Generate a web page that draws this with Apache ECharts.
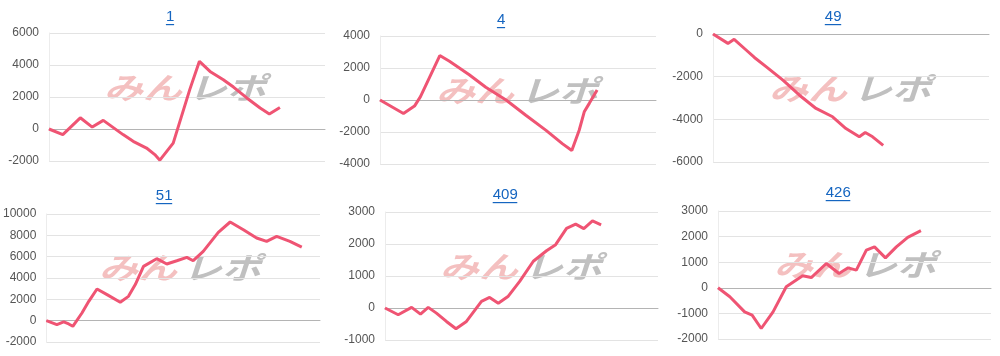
<!DOCTYPE html>
<html><head><meta charset="utf-8">
<script src="https://cdn.jsdelivr.net/npm/echarts@6/dist/echarts.min.js"></script>
<style>html,body{margin:0;padding:0;background:#fff}#c{width:1000px;height:356px}</style>
</head><body><div id="c"></div>
<script>
// ---- data ----
const titles = ['1', '4', '49', '51', '409', '426'];
const c1X = [0, 3, 6.8, 9.4, 11.8, 16.1, 18.3, 21.2, 23, 24.1, 27, 28.8, 30.6, 32.7, 35, 37.9, 40.1, 43, 45.9, 47.9, 50.2];
const c1Y = [0, -350, 700, 120, 540, -350, -770, -1190, -1600, -1950, -880, 790, 2460, 4230, 3600, 3080, 2620, 1940, 1310, 940, 1350];
const c2X = [0, 5.1, 7.5, 8.8, 13, 15.1, 19.4, 23, 27.4, 31.7, 36.1, 39.7, 41.7, 43.3, 44.4, 45.5, 47.2];
const c2Y = [0, -840, -380, 210, 2780, 2420, 1580, 800, 0, -950, -1900, -2740, -3160, -1890, -740, -210, 630];
const c3X = [0, 3.25, 4.6, 7.2, 9, 11.6, 15.2, 18.8, 22.4, 26, 28.9, 31.8, 33.1, 34.7, 37];
const c3Y = [0, -440, -250, -750, -1100, -1540, -2160, -2870, -3490, -3880, -4430, -4820, -4620, -4820, -5220];
const c4X = [0, 2.3, 3.8, 4.9, 5.8, 7.8, 9.3, 11.1, 13.3, 16.2, 18, 19.5, 21.3, 24.2, 26.4, 28.6, 30.8, 32.2, 34.4, 37.7, 40.3, 43.2, 46.1, 48.3, 50.5, 53.4, 56];
const c4Y = [0, -370, -120, -310, -530, 720, 1810, 2970, 2440, 1720, 2280, 3380, 5090, 5810, 5310, 5620, 5940, 5620, 6500, 8280, 9250, 8530, 7750, 7440, 7900, 7440, 6900];
const c5X = [0, 2.9, 5.85, 7.8, 9.5, 11.3, 13.5, 15.6, 17.9, 21.2, 23, 24.9, 27.1, 29.6, 32.6, 35.5, 37.5, 39.9, 41.9, 43.7, 45.6, 47.5];
const c5Y = [0, -210, 20, -190, 20, -160, -420, -650, -420, 210, 330, 150, 370, 830, 1460, 1790, 1980, 2490, 2620, 2480, 2720, 2600];
const c6X = [0, 2.6, 5.85, 7.5, 9.5, 12.1, 15, 18.6, 20.5, 23.8, 26.6, 28.6, 30.4, 32.6, 34.4, 36.8, 39.2, 41.7, 44.6];
const c6Y = [0, -350, -940, -1070, -1590, -940, 40, 470, 400, 950, 560, 780, 690, 1470, 1600, 1170, 1600, 1970, 2230];
const yMin = [-2000, -4000, -6000, -2000, -1000, -2000];
const yMax = [6000, 4000, 0, 10000, 3000, 3000];
const yStep = [2000, 2000, 2000, 2000, 1000, 1000];
const xSpan = 60;

// ---- layout ----
const grids = [
  {left: 49, top: 33, width: 276, height: 128},
  {left: 380, top: 36, width: 276, height: 128},
  {left: 713, top: 34, width: 276, height: 128},
  {left: 46, top: 214, width: 274, height: 128},
  {left: 385, top: 212, width: 273, height: 128},
  {left: 718, top: 211, width: 273, height: 128}
];
const titlePos = [[170, 17], [501, 20], [833, 17], [164, 196], [505, 195], [838, 193]];
const markPos = [[185, 88], [517, 91], [850, 89], [180, 268], [521, 267], [855, 265]];

const xs = [c1X, c2X, c3X, c4X, c5X, c6X];
const ys = [c1Y, c2Y, c3Y, c4Y, c5Y, c6Y];
const FONT = '"Liberation Sans", Arial, sans-serif';
const LINE = '#ef5473';

const chart = echarts.init(document.getElementById('c'), null, {renderer: 'canvas'});
const graphic = [];
titles.forEach((t, i) => {
  const [cx, cy] = titlePos[i];
  const w = t.length * 8.2;
  graphic.push({type: 'text', left: cx - w / 2, top: cy - 8, z: 10,
    style: {text: t, font: '15px ' + FONT, fill: '#1565c0'}});
  graphic.push({type: 'rect', shape: {x: cx - w / 2, y: cy + 7, width: w, height: 1.2}, z: 10,
    style: {fill: '#1565c0'}});
  const [mx, my] = markPos[i];
  graphic.push({type: 'text', x: mx - 3, y: my, z: 0, scaleX: 1.3, originX: 0, originY: 0,
    style: {text: 'みん', font: 'italic bold 30px "Noto Sans CJK JP"', fill: 'rgba(236,150,150,0.6)', align: 'right', verticalAlign: 'middle'}});
  graphic.push({type: 'text', x: mx + 3, y: my, z: 0, scaleX: 1.3, originX: 0, originY: 0,
    style: {text: 'レポ', font: 'italic bold 30px "Noto Sans CJK JP"', fill: 'rgba(150,150,150,0.6)', align: 'left', verticalAlign: 'middle'}});
});

chart.setOption({
  animation: false,
  backgroundColor: '#fff',
  grid: grids,
  graphic: graphic,
  xAxis: grids.map((g, i) => ({
    type: 'value', gridIndex: i, min: 0, max: xSpan,
    axisLabel: {show: false}, axisTick: {show: false}, splitLine: {show: false},
    axisLine: {show: true, onZero: true, lineStyle: {color: '#b4b4b4', width: 1}}
  })),
  yAxis: grids.map((g, i) => ({
    type: 'value', gridIndex: i, min: yMin[i], max: yMax[i], interval: yStep[i],
    axisLabel: {color: '#555', fontSize: 12, fontFamily: FONT, margin: 10, formatter: v => String(v)},
    axisTick: {show: false},
    axisLine: {show: true, lineStyle: {color: '#ececec'}},
    splitLine: {lineStyle: {color: '#e3e3e3', width: 1}}
  })),
  series: xs.map((xArr, i) => ({
    type: 'line', xAxisIndex: i, yAxisIndex: i, z: 5,
    data: xArr.map((x, k) => [x, ys[i][k]]),
    symbol: 'none', smooth: false,
    lineStyle: {color: LINE, width: 3}
  }))
});
</script></body></html>
